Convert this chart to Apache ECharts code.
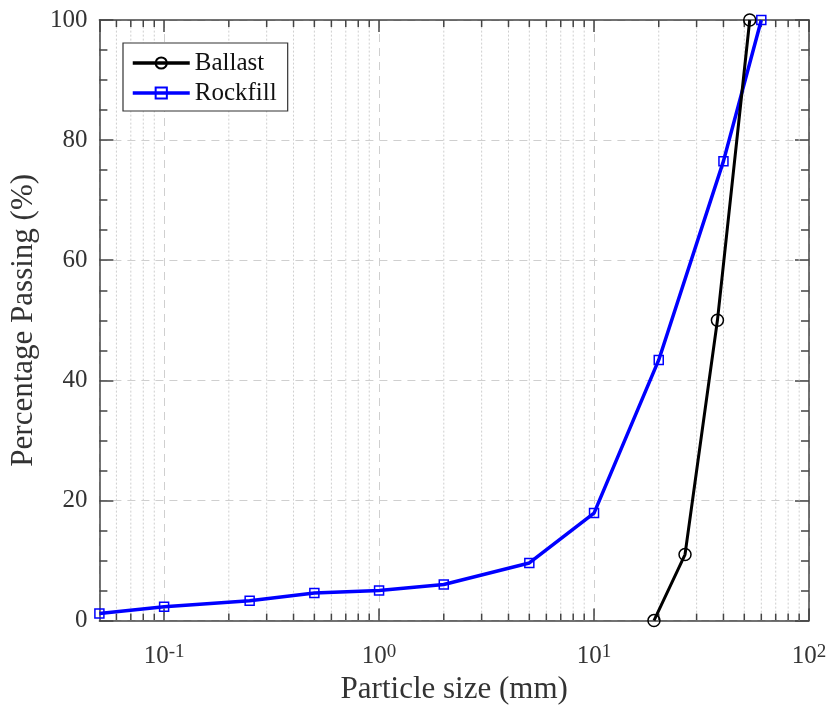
<!DOCTYPE html>
<html>
<head>
<meta charset="utf-8">
<script src="https://cdn.jsdelivr.net/npm/echarts@6/dist/echarts.min.js"></script>
<style>html,body{margin:0;padding:0;background:#fff;}#chart{width:830px;height:710px;}</style>
</head>
<body>
<div id="chart"></div>
<script>
// Data
const ballastX = [19, 26.5, 37.5, 53];
const ballastY = [0, 11, 50, 100];
const rockfillX = [0.05, 0.1, 0.25, 0.5, 1, 2, 5, 10, 20, 40, 60];
const rockfillY = [1.2, 2.3, 3.3, 4.6, 5.0, 6.0, 9.6, 17.9, 43.4, 76.5, 100];
const seriesNames = ['Ballast', 'Rockfill'];
const xMin = 0.05, xMax = 100;
const yMin = 0, yMax = 100, yStep = 20;
const xMinorTicks = [0.06, 0.07, 0.08, 0.09,
  0.2, 0.3, 0.4, 0.5, 0.6, 0.7, 0.8, 0.9,
  2, 3, 4, 5, 6, 7, 8, 9,
  20, 30, 40, 50, 60, 70, 80, 90];

const FONT = "'Liberation Serif','Times New Roman',serif";
const AXIS_COLOR = '#444';
const GRID_COLOR = '#cfcfcf';

function pairs(xs, ys) { return xs.map((x, i) => [x, ys[i]]); }

function expLabel(v) {
  const e = Math.round(Math.log10(v));
  if (Math.abs(v - Math.pow(10, e)) / v > 1e-6) return '';
  return '{b|10}{sup|' + e + '}';
}

const chart = echarts.init(document.getElementById('chart'), null, {renderer: 'canvas'});

const option = {
  animation: false,
  backgroundColor: '#fff',
  grid: {left: 98, right: 21, top: 20, bottom: 87, containLabel: false},
  legend: {
    data: seriesNames,
    orient: 'vertical',
    left: 123, top: 43,
    backgroundColor: '#fff',
    borderColor: '#333', borderWidth: 1.2,
    padding: [7, 11, 5, 8],
    itemWidth: 57, itemHeight: 14, itemGap: 4,
    lineStyle: {width: 3.5},
    textStyle: {fontFamily: FONT, fontSize: 25, color: '#111', lineHeight: 26}
  },
  xAxis: [{
    type: 'log', logBase: 10, min: xMin, max: xMax,
    position: 'bottom',
    name: 'Particle size (mm)', nameLocation: 'middle', nameGap: 38,
    nameTextStyle: {fontFamily: FONT, fontSize: 31, color: '#333'},
    axisLine: {show: true, onZero: false, lineStyle: {color: AXIS_COLOR, width: 1.5}},
    axisTick: {show: true, inside: true, length: 12, lineStyle: {color: AXIS_COLOR, width: 1.5}},
    axisLabel: {
      show: true, margin: 22, showMinLabel: false,
      formatter: expLabel,
      rich: {
        b: {fontFamily: FONT, fontSize: 25, color: '#333', lineHeight: 28},
        sup: {fontFamily: FONT, fontSize: 19, color: '#333', verticalAlign: 'top', lineHeight: 16}
      }
    },
    splitLine: {show: true, lineStyle: {color: GRID_COLOR, type: [8, 6], width: 1}}
  }, {
    type: 'log', logBase: 10, min: xMin, max: xMax,
    position: 'top',
    axisLine: {show: true, onZero: false, lineStyle: {color: AXIS_COLOR, width: 1.5}},
    axisTick: {show: true, inside: true, length: 12, lineStyle: {color: AXIS_COLOR, width: 1.5}},
    axisLabel: {show: false},
    splitLine: {show: false}
  }],
  yAxis: [{
    type: 'value', min: yMin, max: yMax, interval: yStep,
    position: 'left',
    name: 'Percentage Passing (%)', nameLocation: 'middle', nameGap: 55,
    nameTextStyle: {fontFamily: FONT, fontSize: 31, color: '#333'},
    axisLine: {show: true, onZero: false, lineStyle: {color: AXIS_COLOR, width: 1.5}},
    axisTick: {show: true, inside: true, length: 14, lineStyle: {color: AXIS_COLOR, width: 1.5}},
    minorTick: {show: true, splitNumber: 4, length: 8, lineStyle: {color: AXIS_COLOR, width: 1.5}},
    axisLabel: {show: true, margin: 12, fontFamily: FONT, fontSize: 25, color: '#333'},
    splitLine: {show: true, lineStyle: {color: GRID_COLOR, type: [8, 6], width: 1}}
  }, {
    type: 'value', min: yMin, max: yMax, interval: yStep,
    position: 'right',
    axisLine: {show: true, onZero: false, lineStyle: {color: AXIS_COLOR, width: 1.5}},
    axisTick: {show: true, inside: true, length: 14, lineStyle: {color: AXIS_COLOR, width: 1.5}},
    minorTick: {show: true, splitNumber: 4, length: 8, lineStyle: {color: AXIS_COLOR, width: 1.5}},
    axisLabel: {show: false},
    splitLine: {show: false}
  }],
  series: [{
    name: 'minorGrid',
    type: 'custom',
    silent: true,
    z: 1,
    xAxisIndex: 0, yAxisIndex: 0,
    clip: false,
    data: xMinorTicks.map(v => [v, yMin]),
    renderItem: function (params, api) {
      const x = api.value(0);
      const b = api.coord([x, yMin]);
      const t = api.coord([x, yMax]);
      return {
        type: 'group',
        children: [{
          type: 'line',
          shape: {x1: b[0], y1: b[1], x2: t[0], y2: t[1]},
          style: {stroke: GRID_COLOR, lineWidth: 1, lineDash: [2, 2]}
        }, {
          type: 'line',
          shape: {x1: b[0], y1: b[1], x2: b[0], y2: b[1] - 7},
          style: {stroke: AXIS_COLOR, lineWidth: 1.5}
        }, {
          type: 'line',
          shape: {x1: t[0], y1: t[1], x2: t[0], y2: t[1] + 7},
          style: {stroke: AXIS_COLOR, lineWidth: 1.5}
        }]
      };
    }
  }, {
    name: 'Ballast',
    type: 'line',
    z: 4,
    clip: false,
    data: pairs(ballastX, ballastY),
    symbol: 'circle', symbolSize: 12,
    lineStyle: {color: '#000', width: 3},
    itemStyle: {color: 'rgba(255,255,255,0)', borderColor: '#000', borderWidth: 1.5}
  }, {
    name: 'Rockfill',
    type: 'line',
    z: 3,
    clip: false,
    data: pairs(rockfillX, rockfillY),
    symbol: 'rect', symbolSize: 9,
    lineStyle: {color: '#0000ff', width: 3.5},
    itemStyle: {color: 'rgba(255,255,255,0)', borderColor: '#0000ff', borderWidth: 1.5}
  }]
};

chart.setOption(option);
</script>
</body>
</html>
